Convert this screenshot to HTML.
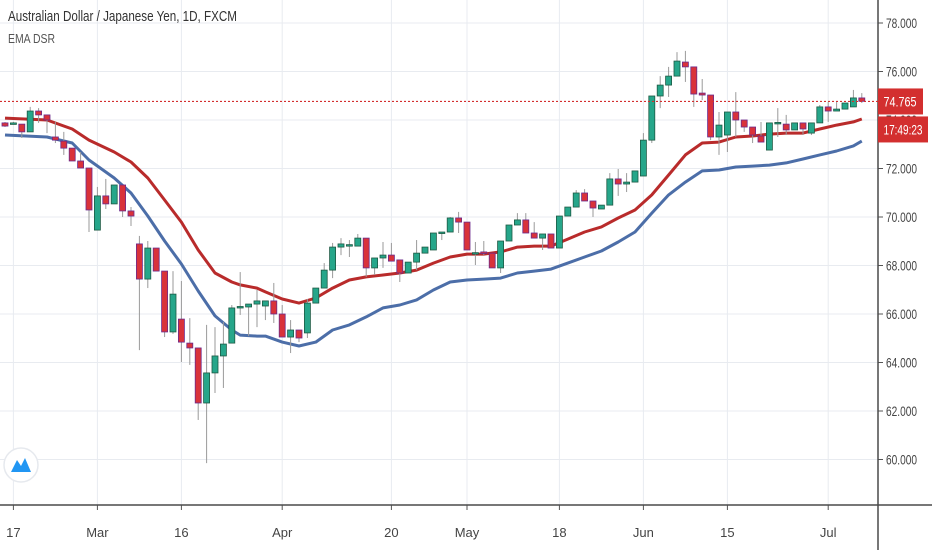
<!DOCTYPE html>
<html><head><meta charset="utf-8">
<style>
html,body{margin:0;padding:0;background:#fff;}
body{width:932px;height:550px;overflow:hidden;position:relative;font-family:"Liberation Sans Narrow","Liberation Sans",sans-serif;}
svg{position:absolute;left:0;top:0;}
.t{font-family:"Liberation Sans Narrow","Liberation Sans",sans-serif;}
</style></head>
<body>
<svg id="chart" width="932" height="550" viewBox="0 0 932 550" xmlns="http://www.w3.org/2000/svg">
<g id="grid"></g>
<g id="ema"></g>
<g id="candles"></g>
<g id="axes"></g>
<text x="8" y="21" font-size="15" fill="#333" class="t" textLength="229" lengthAdjust="spacingAndGlyphs">Australian Dollar / Japanese Yen, 1D, FXCM</text>
<text x="8" y="43" font-size="13" fill="#555" class="t" textLength="47" lengthAdjust="spacingAndGlyphs">EMA DSR</text>
<g>
<circle cx="21" cy="465" r="17" fill="#fff" stroke="#e6e9ee" stroke-width="1.5"/>
<path d="M11 472 L17 460 L21 466 L25 458 L31 472 Z" fill="#2196f3"/>
</g>
</svg>
<script>
const opens=[73.88,73.88,73.83,73.51,74.37,74.21,73.30,73.13,72.84,72.31,72.02,69.46,70.87,70.54,71.32,70.25,68.89,67.44,68.72,67.77,65.26,65.79,64.80,64.60,62.33,63.57,64.27,64.80,66.29,66.29,66.41,66.33,66.54,66.00,65.05,65.34,65.22,66.45,67.07,67.81,68.76,68.84,68.80,69.13,67.90,68.31,68.43,68.23,67.69,68.14,68.51,68.64,69.34,69.38,69.96,69.79,68.51,68.56,68.51,67.90,69.01,69.67,69.88,69.34,69.13,69.30,68.72,70.04,70.41,70.99,70.66,70.33,70.49,71.57,71.36,71.44,71.69,73.17,74.99,75.44,75.81,76.39,76.19,75.11,75.03,73.30,73.38,74.33,74.00,73.71,73.34,72.76,73.88,73.83,73.59,73.88,73.46,73.88,74.54,74.37,74.45,74.54,74.91];
const highs=[73.92,73.92,73.83,74.54,74.49,74.21,73.92,73.51,72.84,72.68,72.02,71.24,71.57,71.32,71.32,70.41,69.22,69.01,68.72,67.77,67.77,67.36,65.83,64.60,65.55,65.46,65.67,66.37,67.73,66.41,66.99,66.54,67.28,66.37,65.75,65.34,66.62,67.07,68.10,68.93,69.13,69.05,69.30,69.13,68.31,68.97,68.93,68.23,68.14,69.05,68.76,69.34,69.38,70.00,70.21,69.79,68.97,69.01,68.51,69.01,69.67,70.16,70.16,69.79,69.30,69.30,70.04,70.41,71.11,71.15,70.66,70.49,71.81,71.98,71.81,71.90,73.46,74.99,75.81,76.19,76.80,76.85,76.19,75.69,75.03,74.33,74.33,75.15,74.00,73.71,73.92,73.88,74.49,74.21,73.88,73.88,73.88,74.62,74.74,74.74,74.70,75.24,75.11];
const lows=[73.71,73.83,73.26,73.51,73.88,73.46,73.05,72.56,72.31,72.02,69.38,69.46,70.33,70.54,70.00,69.63,64.51,67.07,67.77,65.05,65.18,64.02,63.90,61.63,59.85,62.74,62.95,64.80,65.96,65.09,65.46,65.75,65.63,65.05,64.39,64.84,65.01,66.45,67.07,67.48,68.43,68.35,68.80,67.53,67.61,67.90,68.18,67.32,67.69,67.81,68.51,68.64,69.05,69.38,69.34,68.64,68.02,68.43,67.90,67.69,69.01,69.67,69.34,69.13,68.64,68.72,68.72,70.04,70.41,70.66,70.00,70.33,70.49,70.87,71.03,71.44,71.69,73.05,74.49,74.95,75.81,75.57,74.54,74.82,73.17,72.56,72.68,73.30,73.51,73.05,73.09,72.76,73.30,73.38,73.59,73.38,73.38,73.88,73.92,74.37,74.45,74.54,74.70];
const closes=[73.75,73.88,73.51,74.37,74.21,74.00,73.17,72.84,72.31,72.02,70.29,70.87,70.54,71.32,70.25,70.04,67.44,68.72,67.77,65.26,66.82,64.84,64.60,62.33,63.57,64.27,64.76,66.25,66.31,66.41,66.54,66.54,66.00,65.05,65.34,65.01,66.45,67.07,67.81,68.76,68.89,68.86,69.13,67.90,68.31,68.43,68.18,67.69,68.14,68.51,68.76,69.34,69.38,69.96,69.79,68.64,68.53,68.51,67.90,69.01,69.67,69.88,69.34,69.13,69.30,68.72,70.04,70.41,70.99,70.66,70.37,70.49,71.57,71.36,71.44,71.90,73.17,74.99,75.44,75.81,76.43,76.19,75.07,75.03,73.30,73.79,74.33,74.00,73.71,73.38,73.09,73.88,73.90,73.59,73.88,73.63,73.88,74.54,74.37,74.45,74.70,74.91,74.77];
const emaIdx=[0,5,8,10,13,15,17,19,21,23,25,27,28,30,31,33,35,37,39,41,43,45,47,49,51,53,55,57,59,61,63,65,67,69,71,73,75,77,79,81,83,85,87,89,91,93,95,97,99,101,102];
const emaRed=[74.08,74.00,73.63,73.17,72.68,72.27,71.61,70.70,69.79,68.64,67.69,67.32,67.20,67.07,66.91,66.62,66.45,66.66,67.07,67.40,67.53,67.61,67.69,67.81,68.10,68.35,68.47,68.47,68.56,68.76,68.80,68.80,69.09,69.38,69.59,69.96,70.29,70.91,71.73,72.56,73.05,73.09,73.30,73.34,73.42,73.46,73.46,73.63,73.79,73.92,74.04];
const emaBlue=[73.38,73.30,73.05,72.35,71.61,70.99,70.04,69.01,68.06,66.95,65.92,65.34,65.13,65.09,65.09,64.84,64.68,64.84,65.34,65.55,65.88,66.25,66.37,66.58,66.99,67.32,67.40,67.44,67.48,67.69,67.77,67.85,68.10,68.35,68.60,68.97,69.38,70.16,70.91,71.44,71.90,71.94,72.06,72.10,72.14,72.23,72.39,72.56,72.72,72.93,73.13];
const priceTicks=[78,76,74,72,70,68,66,64,62,60];
const dateLabels=["17","Mar","16","Apr","20","May","18","Jun","15","Jul"];
const dateIdx=[1,11,21,33,46,55,66,76,86,98];
const lastPrice=74.765;
const lastPriceText="74.765";
const countdownText="17:49:23";

const NS="http://www.w3.org/2000/svg";
const PLOT_R=878, PLOT_B=505;
const xS=i=>5+i*8.4;
const yS=v=>23+(78-v)*24.25;
function mk(tag,attrs,parent){const e=document.createElementNS(NS,tag);for(const k in attrs)e.setAttribute(k,attrs[k]);parent.appendChild(e);return e;}
const grid=document.getElementById('grid'),ema=document.getElementById('ema'),cg=document.getElementById('candles'),ax=document.getElementById('axes');

priceTicks.forEach(v=>{
  const y=yS(v);
  const gl=mk('line',{x1:0,x2:PLOT_R,y1:y,y2:y,stroke:'#e8ebf0','stroke-width':1},grid);
  
  
  mk('line',{x1:PLOT_R,x2:PLOT_R+5,y1:y,y2:y,stroke:'#555','stroke-width':1},ax);
  const t=mk('text',{x:PLOT_R+8,y:y+5,'font-size':14,fill:'#444',class:'t',textLength:31,lengthAdjust:'spacingAndGlyphs'},ax);
  t.textContent=v.toFixed(3);
  
  
});
dateLabels.forEach((s,k)=>{
  const x=xS(dateIdx[k]);
  const gl=mk('line',{x1:x,x2:x,y1:0,y2:PLOT_B,stroke:'#e8ebf0','stroke-width':1},grid);
  
  
  mk('line',{x1:x,x2:x,y1:PLOT_B,y2:PLOT_B+5,stroke:'#555','stroke-width':1},ax);
  const t=mk('text',{x:x,y:537,'font-size':13,fill:'#444','text-anchor':'middle',class:'t'},ax);
  t.textContent=s;
  
  
});
mk('line',{x1:0,x2:932,y1:PLOT_B,y2:PLOT_B,stroke:'#4a4a4a','stroke-width':1.5},ax);
mk('line',{x1:PLOT_R,x2:PLOT_R,y1:0,y2:550,stroke:'#4a4a4a','stroke-width':1.5},ax);

function path(vals){let d='';vals.forEach((v,k)=>{d+=(k?'L':'M')+xS(emaIdx[k]).toFixed(1)+' '+yS(v).toFixed(1);});return d;}
const pb=mk('path',{d:path(emaBlue),fill:'none',stroke:'#4c6ea8','stroke-width':3,'stroke-linejoin':'round'},ema);


const pr=mk('path',{d:path(emaRed),fill:'none',stroke:'#b92b2b','stroke-width':3,'stroke-linejoin':'round'},ema);



opens.forEach((o,i)=>{
  const c=closes[i],x=xS(i),bull=c>=o;
  const g=mk('g',{},cg);
  
  
  mk('line',{x1:x,x2:x,y1:yS(highs[i]),y2:yS(lows[i]),stroke:'#9a9a9a','stroke-width':1},g);
  const top=yS(Math.max(o,c)),bot=yS(Math.min(o,c));
  mk('rect',{x:x-3,y:top,width:6,height:Math.max(1.5,bot-top),fill:bull?'#26a68a':'#d9323a',stroke:bull?'#1d5a44':'#6b2a8c','stroke-width':0.8},g);
});

const ly=yS(lastPrice);
const dl=mk('line',{x1:0,x2:PLOT_R,y1:ly,y2:ly,stroke:'#d32f2f','stroke-width':1.2,'stroke-dasharray':'2,2'},ax);


const b1=mk('rect',{x:PLOT_R,y:ly-13,width:45,height:26,fill:'#d32f2f'},ax);


const t1=mk('text',{x:PLOT_R+22,y:ly+5,'font-size':14,fill:'#fff','text-anchor':'middle',class:'t',textLength:33,lengthAdjust:'spacingAndGlyphs'},ax);
t1.textContent=lastPriceText;


const b2=mk('rect',{x:PLOT_R,y:ly+15,width:50,height:26,fill:'#d32f2f'},ax);


const t2=mk('text',{x:PLOT_R+25,y:ly+33,'font-size':14,fill:'#fff','text-anchor':'middle',class:'t',textLength:39,lengthAdjust:'spacingAndGlyphs'},ax);
t2.textContent=countdownText;


</script>
</body></html>
